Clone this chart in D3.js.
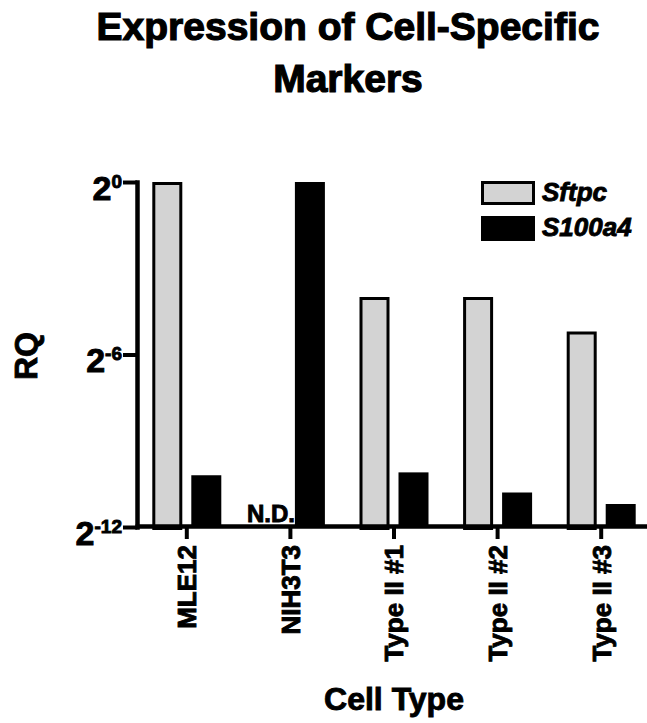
<!DOCTYPE html>
<html>
<head>
<meta charset="utf-8">
<script src="https://cdn.jsdelivr.net/npm/d3@7/dist/d3.min.js"></script>
<style>
  body { margin: 0; background: #fff; }
  svg text { font-family: "Liberation Sans", Arial, Helvetica, sans-serif; font-weight: bold; fill: #000; stroke: #000; stroke-width: 0.9px; }
</style>
</head>
<body>
<script>
// values are log2(RQ); null = not detected
const cells = ["MLE12", "NIH3T3", "Type II #1", "Type II #2", "Type II #3"];
const series = ["Sftpc", "S100a4"];
const sftpc = [0, null, -4.0, -4.0, -5.2];
const s100a4 = [-10.2, 0, -10.1, -10.8, -11.2];
const yTicks = [0, -6, -12];
const seriesFill = { Sftpc: "#d3d3d3", S100a4: "#000" };

const W = 647, H = 723;
const svg = d3.select("body").append("svg").attr("width", W).attr("height", H);

const x = d3.scaleBand().domain(cells).range([135, 653]).paddingInner(0.334).paddingOuter(0.167);
const xSub = d3.scaleBand().domain(series).range([0, x.bandwidth()]).paddingInner(9 / 39);
const y = d3.scaleLinear().domain([-12, 0]).range([527, 182]);

const rows = cells.map((c, i) => ({ cell: c, Sftpc: sftpc[i], S100a4: s100a4[i] }));

// title
svg.append("text").attr("x", 348).attr("y", 40).attr("text-anchor", "middle")
  .style("font-size", "39px").style("stroke-width", "1.2px").text("Expression of Cell-Specific");
svg.append("text").attr("x", 348).attr("y", 92).attr("text-anchor", "middle")
  .style("font-size", "39px").style("stroke-width", "1.2px").text("Markers");

// bars
const groups = svg.append("g").selectAll("g").data(rows).join("g")
  .attr("transform", d => `translate(${x(d.cell)},0)`);

groups.selectAll("rect")
  .data(d => series.filter(s => d[s] !== null).map(s => ({ key: s, value: d[s] })))
  .join("rect")
  .attr("x", d => xSub(d.key) + (d.key === "Sftpc" ? 1.5 : 0))
  .attr("y", d => y(d.value) + (d.key === "Sftpc" ? 1.5 : 0))
  .attr("width", d => xSub.bandwidth() - (d.key === "Sftpc" ? 3 : 0))
  .attr("height", d => y(-12) - y(d.value))
  .attr("fill", d => seriesFill[d.key])
  .attr("stroke", d => d.key === "Sftpc" ? "#000" : "none")
  .attr("stroke-width", 3);

// N.D. markers
groups.filter(d => d.Sftpc === null).append("text")
  .attr("x", xSub("Sftpc") + xSub.bandwidth() / 2)
  .attr("y", 522)
  .attr("text-anchor", "middle")
  .style("font-size", "24px")
  .text("N.D.");

// y axis
const yAxis = svg.append("g").attr("transform", "translate(137,0)")
  .call(d3.axisLeft(y).tickValues(yTicks).tickSize(14).tickSizeOuter(0).tickFormat(""));
yAxis.select(".domain").attr("stroke-width", 4.5).attr("stroke-linecap", "square");
yAxis.selectAll(".tick line").attr("stroke-width", 4);
yAxis.selectAll(".tick").append("text")
  .attr("x", -15).attr("y", 6).attr("text-anchor", "end")
  .each(function (d) {
    const t = d3.select(this);
    t.append("tspan").attr("dy", 11).style("font-size", "34px").text("2");
    t.append("tspan").attr("dy", -12).style("font-size", "19px").text(d === 0 ? "0" : String(d));
  });

// x axis
const xAxis = svg.append("g").attr("transform", "translate(0,526)")
  .call(d3.axisBottom(x).tickSize(13).tickSizeOuter(0).tickFormat(""));
xAxis.select(".domain").attr("stroke-width", 4.5);
xAxis.selectAll(".tick line").attr("stroke-width", 4);
xAxis.selectAll(".tick").append("text")
  .attr("transform", "translate(0,19) rotate(-90)")
  .attr("text-anchor", "end")
  .attr("dy", "0.36em")
  .style("font-size", "26px")
  .text(d => d);

// axis titles
svg.append("text").attr("transform", "translate(37,356) rotate(-90)")
  .attr("text-anchor", "middle").style("font-size", "32px").text("RQ");
svg.append("text").attr("x", 394).attr("y", 710)
  .attr("text-anchor", "middle").style("font-size", "32px").text("Cell Type");

// legend
const legend = svg.append("g").selectAll("g").data(series).join("g")
  .attr("transform", (d, i) => `translate(481,${181 + i * 35})`);
legend.append("rect")
  .attr("x", d => d === "Sftpc" ? 1.5 : 0).attr("y", d => d === "Sftpc" ? 1.5 : 0)
  .attr("width", d => d === "Sftpc" ? 51 : 54).attr("height", d => d === "Sftpc" ? 21 : 25)
  .attr("fill", d => seriesFill[d])
  .attr("stroke", d => d === "Sftpc" ? "#000" : "none").attr("stroke-width", 3);
legend.append("text").attr("x", 61).attr("y", 20)
  .style("font-size", "26px").style("font-style", "italic").text(d => d);
</script>
</body>
</html>
